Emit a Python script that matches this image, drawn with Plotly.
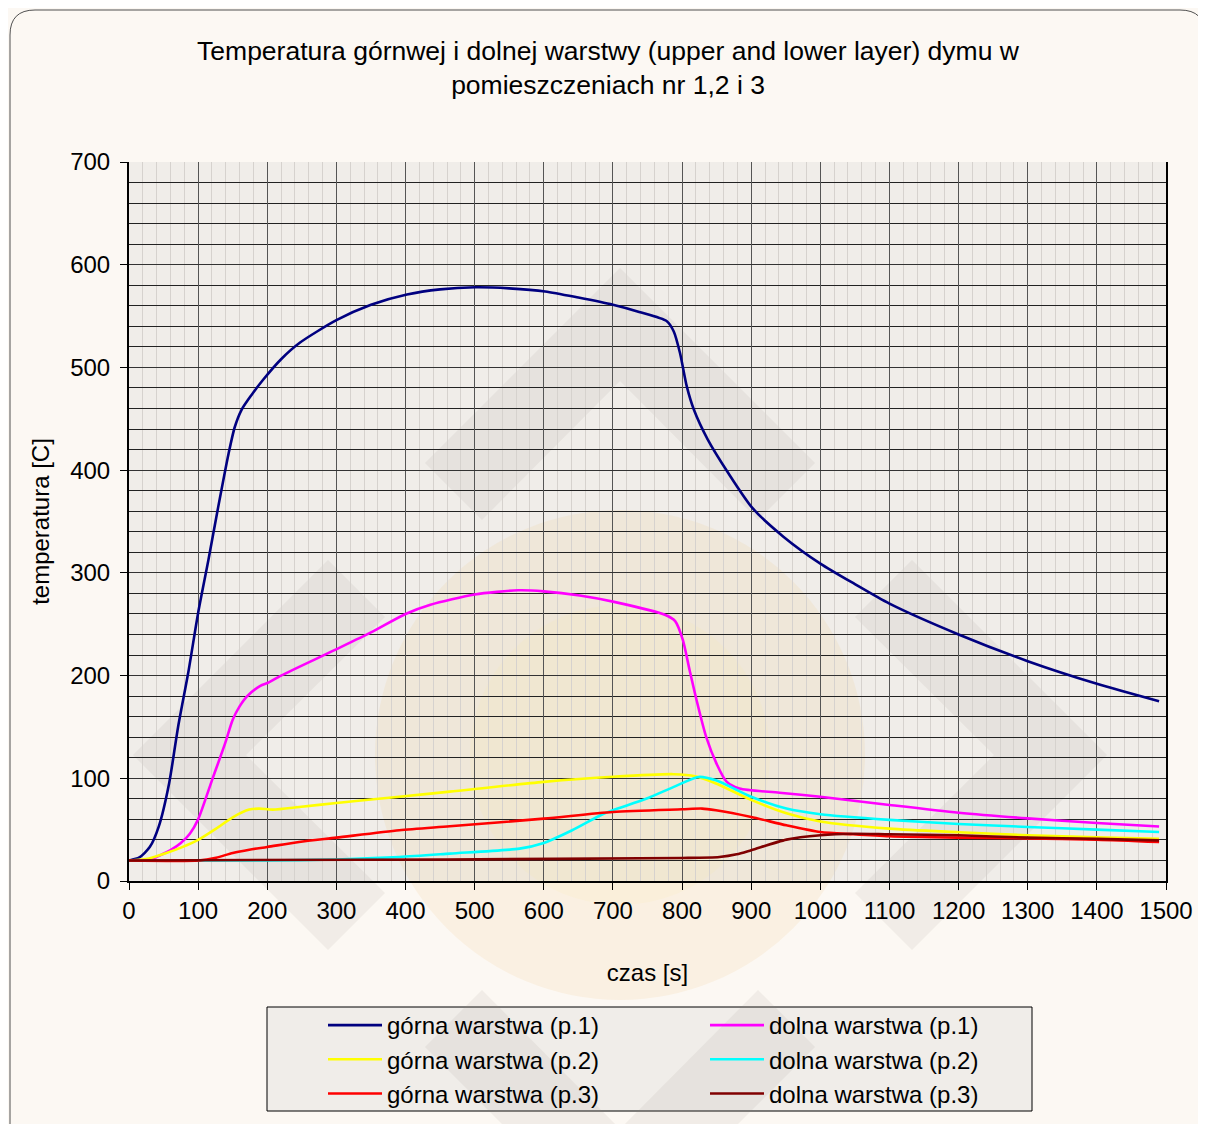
import math
import plotly.graph_objects as go

# ---- data (time [s], temperature [C]) ----
t_g1 = [0, 15, 30, 43, 58, 71, 86, 100, 115, 129, 144, 153, 163, 177, 194, 220, 247, 300, 350, 402, 450, 501,
        550, 602, 650, 700, 738, 778, 788, 797, 807, 817, 837, 867, 902, 947, 1000, 1050, 1100, 1200, 1300, 1400, 1490]
T_g1 = [20, 23, 33, 53, 95, 150, 204, 261, 313, 364, 416, 442, 459, 473, 488, 508, 524, 546, 561, 571, 576, 578,
        577, 574, 568, 561, 554, 545, 535, 514, 481, 459, 430, 397, 363, 335, 309, 289, 270, 240, 214, 192, 175]

t_d1 = [0, 30, 45, 60, 75, 88, 100, 120, 139, 150, 160, 171, 190, 201, 220, 298, 350, 400, 436, 500, 563, 600,
        652, 700, 776, 790, 801, 811, 821, 835, 850, 864, 883, 941, 1000, 1100, 1200, 1300, 1400, 1490]
T_d1 = [20, 21, 25, 30, 37, 46, 60, 98, 134, 157, 170, 180, 190, 193, 200, 225, 242, 260, 269, 279, 283, 282,
        278, 272, 259, 253, 235, 205, 176, 140, 114, 97, 90, 86, 82, 74, 66.5, 61, 56.5, 53]

t_g2 = [0, 29, 53, 77, 100, 126, 150, 174, 188, 208, 246, 300, 391, 464, 600, 700, 788, 819, 849, 900, 951,
        1000, 1100, 1200, 1300, 1400, 1490]
T_g2 = [20, 22, 27, 33, 40, 51, 62, 69.5, 70.5, 69.5, 72, 76, 82, 87, 96.5, 101.5, 104, 102, 95, 79, 66,
        58, 51, 47.5, 44.5, 42.5, 41]

t_d2 = [0, 200, 300, 391, 464, 565, 600, 641, 682, 700, 748, 788, 824, 849, 900, 951, 1000, 1100, 1200, 1300,
        1400, 1490]
T_d2 = [20, 20, 21, 23.4, 26.7, 31.5, 37, 49.4, 64, 69, 80, 91.6, 101.3, 98, 82, 70.5, 65, 59.5, 55.5, 52.6,
        50, 47.7]

t_g3 = [0, 101, 126, 150, 174, 200, 246, 300, 391, 464, 600, 700, 800, 829, 849, 900, 951, 1000, 1047, 1100,
        1200, 1300, 1400, 1490]
T_g3 = [20, 20, 22.7, 27.3, 30.5, 33.1, 38, 42.2, 49.4, 53.3, 60.7, 67.2, 69.8, 70.5, 68.8, 62.3, 54.2, 47.7,
        45.5, 43.5, 42.2, 41.5, 40.3, 38]

t_d3 = [0, 460, 800, 854, 879, 900, 951, 1000, 1047, 1100, 1200, 1300, 1400, 1490]
T_d3 = [20, 21, 22.4, 23.4, 26, 30, 40.3, 44.5, 46, 45.5, 44.5, 42.2, 41, 39.6]

names = ["górna warstwa (p.1)", "dolna warstwa (p.1)", "górna warstwa (p.2)",
         "dolna warstwa (p.2)", "górna warstwa (p.3)", "dolna warstwa (p.3)"]
colors = ["#000080", "#FF00FF", "#FFFF00", "#00FFFF", "#FF0000", "#800000"]
series = [(t_g1, T_g1), (t_d1, T_d1), (t_g2, T_g2), (t_d2, T_d2), (t_g3, T_g3), (t_d3, T_d3)]

# page has an 8px body margin: figure starts at (8, 8) in the window
OFF = 8
W, H = 1206 - OFF, 1124 - OFF
L, R, T, B = 129 - OFF, 1166 - OFF, 162 - OFF, 881 - OFF
FONT = "Arial, Liberation Sans, sans-serif"

fig = go.Figure()
for (tx, ty), n, c in zip(series, names, colors):
    fig.add_trace(go.Scatter(x=tx, y=ty, name=n, mode="lines",
                             line=dict(color=c, width=2.6, shape="spline", smoothing=0.7)))


def px(x):  # window pixel -> paper x
    return (x - OFF - L) / (R - L)


def py(y):  # window pixel -> paper y
    return (B - (y - OFF)) / (B - T)


def poly_path(pts):
    return "M " + " L ".join(f"{px(x)},{py(y)}" for x, y in pts) + " Z"


# outer rounded frame
frame = (f"M {px(10)},{py(1150)} L {px(10)},{py(35)} Q {px(10)},{py(10)} {px(35)},{py(10)} "
         f"L {px(1180)},{py(10)} Q {px(1205)},{py(10)} {px(1205)},{py(35)} L {px(1205)},{py(1150)}")
shapes = [
    dict(type="path", xref="paper", yref="paper", path=frame, line=dict(color="#505050", width=1), layer="below"),
    dict(type="rect", xref="paper", yref="paper", x0=px(267), x1=px(1032), y0=py(1007), y1=py(1111),
         line=dict(color="black", width=1), fillcolor="#f0ede9", layer="below"),
]

# faint background logo (watermark): orange disc + four outward chevrons
CX, CY = 620, 755
shapes.append(dict(type="circle", xref="paper", yref="paper", x0=px(CX - 245), x1=px(CX + 245),
                   y0=py(CY - 245), y1=py(CY + 245), line=dict(width=0),
                   fillcolor="rgba(238,190,110,0.12)", layer="below"))
shapes.append(dict(type="circle", xref="paper", yref="paper", x0=px(CX - 150), x1=px(CX + 150),
                   y0=py(CY - 150), y1=py(CY + 150), line=dict(width=0),
                   fillcolor="rgba(255,235,150,0.10)", layer="below"))
D, ARM, TH = 487, 195, 113
base = [(0, -D), (-ARM, -D + ARM), (-ARM + 57, -D + ARM + 57), (0, -D + TH),
        (ARM - 57, -D + ARM + 57), (ARM, -D + ARM)]
for k in range(4):
    a = k * math.pi / 2
    ca, sa = math.cos(a), math.sin(a)
    pts = [(CX + x * ca - y * sa, CY + x * sa + y * ca) for x, y in base]
    shapes.append(dict(type="path", xref="paper", yref="paper", path=poly_path(pts), line=dict(width=0),
                       fillcolor="rgba(150,135,125,0.10)", layer="below"))

fig.update_layout(
    width=W, height=H,
    margin=dict(l=L, r=W - R, t=T, b=H - B, autoexpand=False),
    paper_bgcolor="#fcf8f3",
    plot_bgcolor="#f0ede9",
    font=dict(family=FONT, size=24, color="black"),
    title=dict(text="Temperatura górnwej i dolnej warstwy (upper and lower layer) dymu w<br>pomieszczeniach nr 1,2 i 3",
               x=(608 - OFF) / W, xanchor="center", y=1 - (60 - OFF) / H, yanchor="middle",
               font=dict(family=FONT, size=26.5, color="black")),
    shapes=shapes,
    showlegend=True,
    legend=dict(orientation="h", x=px(323), xanchor="left", y=py(1003), yanchor="top",
                bgcolor="rgba(0,0,0,0)", borderwidth=0, entrywidth=313, entrywidthmode="pixels",
                itemwidth=54, font=dict(family=FONT, size=24, color="black"), traceorder="normal"),
)

fig.update_xaxes(range=[0, 1500], dtick=100, tick0=0, showgrid=True, gridcolor="#555555", gridwidth=1,
                 minor=dict(dtick=20, showgrid=True, gridcolor="#d6d2ce", gridwidth=1),
                 showline=True, linecolor="black", linewidth=2, mirror=False,
                 ticks="outside", ticklen=7, tickcolor="black", zeroline=False,
                 tickfont=dict(size=24),
                 title=dict(text="czas [s]", standoff=41, font=dict(size=24)))
fig.update_yaxes(range=[0, 700], dtick=100, tick0=0, showgrid=True, gridcolor="#333333", gridwidth=1,
                 minor=dict(dtick=20, showgrid=True, gridcolor="#222222", gridwidth=1),
                 showline=True, linecolor="black", linewidth=2, mirror=True,
                 ticks="outside", ticklen=7, tickcolor="black", zeroline=False,
                 tickfont=dict(size=24), ticklabelstandoff=5,
                 title=dict(text="temperatura [C]", standoff=14, font=dict(size=24)))

fig.write_html("out.html")
